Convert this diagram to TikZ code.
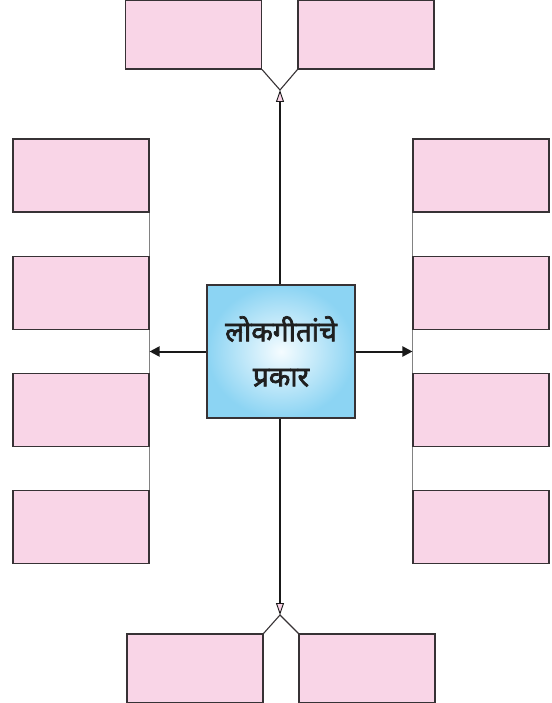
\documentclass[tikz,border=0pt]{standalone}
\usepackage{fontspec}
\newfontfamily\devfont[Script=Devanagari, FakeBold=2.5]{Noto Sans}
\usetikzlibrary{positioning,arrows.meta,calc}
\definecolor{boxpink}{RGB}{249,213,231}
\definecolor{boxedge}{RGB}{55,50,53}
\definecolor{linkgrey}{RGB}{130,130,130}
\definecolor{hubout}{RGB}{140,212,243}
\definecolor{hubin}{RGB}{245,252,255}

\begin{document}
\begin{tikzpicture}[x=1pt,y=-1pt,
  box/.style={draw=boxedge, fill=boxpink, line width=1.1pt, minimum width=136pt, minimum height=73pt, inner sep=0pt},
  hub/.style={draw=boxedge, line width=1.1pt, inner color=hubin, outer color=hubout, minimum width=148pt, minimum height=133pt, align=center, font=\devfont\fontsize{28}{45}\selectfont, text=black!88},
  link/.style={draw=linkgrey, line width=1.1pt},
  spoke/.style={line width=2pt, draw=black!90},
  opentip/.style={-{Triangle[fill=boxpink, length=12pt, width=8pt, line width=0.9pt]}}]
  \useasboundingbox (0,0) rectangle (551,703);
  % the hub in the middle
  \node[hub] (hub) at (281,351.5) {लोकगीतांचे\\प्रकार};
  % top and bottom pairs
  \node[box, minimum height=69pt] (tl) at (193.5,34.5) {};
  \node[box, minimum height=69pt] (tr) at (366,34.5) {};
  \node[box, minimum height=69pt] (bl) at (195,668.5) {};
  \node[box, minimum height=69pt] (br) at (367,668.5) {};
  % the two columns
  \foreach \i/\y in {1/175.5,2/293,3/410,4/527} {
    \node[box] (l\i) at (81,\y) {};
    \node[box] (r\i) at (481,\y) {};
  }
  \foreach \a/\b in {1/2,2/3,3/4} {
    \draw[link] (l\a.south east) -- (l\b.north east);
    \draw[link] (r\a.south west) -- (r\b.north west);
  }
  \coordinate (toptip) at (280,90);
  \coordinate (bottip) at (280,615);
  \draw[boxedge, line width=1.1pt] (tl.south east) -- (toptip) -- (tr.south west);
  \draw[boxedge, line width=1.1pt] (bl.north east) -- (bottip) -- (br.north west);
  \draw[spoke, opentip] (hub.north -| toptip) -- (toptip);
  \draw[spoke, opentip] (hub.south -| bottip) -- (bottip);
  \draw[spoke, -{Triangle[length=10pt, width=10pt]}] (hub.west) -- (hub.west -| l1.east);
  \draw[spoke, -{Triangle[length=10pt, width=10pt]}] (hub.east) -- (hub.east -| r1.west);
\end{tikzpicture}
\end{document}
